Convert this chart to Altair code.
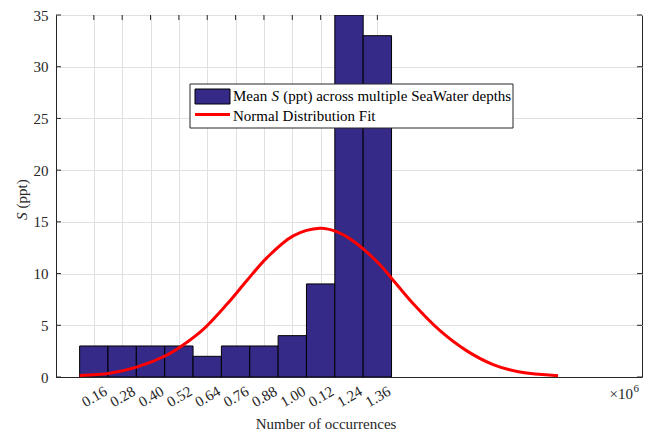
import json
import altair as alt
import pandas as pd

# Histogram bins (x in units of 1e6) and their heights
bin_centers = [0.16, 0.28, 0.40, 0.52, 0.64, 0.76, 0.88, 1.00, 1.12, 1.24, 1.36]
tick_labels = ["0.16", "0.28", "0.40", "0.52", "0.64", "0.76", "0.88", "1.00", "0.12", "1.24", "1.36"]
counts = [3, 3, 3, 3, 2, 3, 3, 4, 9, 35, 33]

# Normal distribution fit curve
fit_x = [0.10, 0.228, 0.341, 0.468, 0.538, 0.623, 0.722, 0.807, 0.891, 1.004, 1.117,
         1.187, 1.269, 1.371, 1.420, 1.511, 1.624, 1.737, 1.850, 1.963, 2.125]
fit_y = [0.15, 0.37, 0.95, 2.1, 3.09, 4.6, 7.0, 9.3, 11.5, 13.65, 14.38,
         14.05, 12.96, 10.85, 9.55, 7.1, 4.5, 2.55, 1.2, 0.48, 0.13]

y_ticks = [0, 5, 10, 15, 20, 25, 30, 35]

X_MAX = 2.48
Y_MAX = 35
BIN_W = 0.12
FONT = "Liberation Serif"
FS = 15
INK = "#262626"
BAR = "#352A87"

bars = pd.DataFrame({
    "start": [c - BIN_W / 2 for c in bin_centers],
    "end": [c + BIN_W / 2 for c in bin_centers],
    "base": [0] * len(bin_centers),
    "count": counts,
})
fit = pd.DataFrame({"x": fit_x, "y": fit_y})
one = pd.DataFrame({"k": [0]})

xscale = alt.Scale(domain=[0, X_MAX], nice=False, zero=False)
yscale = alt.Scale(domain=[0, Y_MAX], nice=False)

label_expr = json.dumps(tick_labels) + "[round((datum.value - 0.16) / 0.12)]"

xaxis = alt.Axis(values=bin_centers, labelExpr=label_expr, title=None, grid=True,
                 tickSize=0, labelAngle=-30, labelAlign="center", labelBaseline="middle",
                 labelPadding=19, labelOverlap=False)
yaxis = alt.Axis(values=y_ticks, title=None, grid=True, tickSize=0, labelPadding=8,
                 format="d", labelOverlap=False)

# inward tick marks on top, left and right edges
top_ticks = pd.DataFrame({"x": bin_centers, "y": [Y_MAX] * len(bin_centers),
                          "y2": [Y_MAX - 0.48] * len(bin_centers)})
left_ticks = pd.DataFrame({"y": y_ticks, "x": [0.0] * len(y_ticks),
                           "x2": [0.021] * len(y_ticks)})
right_ticks = pd.DataFrame({"y": y_ticks, "x": [X_MAX - 0.021] * len(y_ticks),
                            "x2": [X_MAX] * len(y_ticks)})

tick_top = alt.Chart(top_ticks).mark_rule(color=INK, strokeWidth=1).encode(
    x=alt.X("x:Q", scale=xscale, axis=xaxis), y=alt.Y("y:Q", scale=yscale, axis=yaxis),
    y2="y2:Q")
tick_left = alt.Chart(left_ticks).mark_rule(color=INK, strokeWidth=1).encode(
    x="x:Q", x2="x2:Q", y="y:Q")
tick_right = alt.Chart(right_ticks).mark_rule(color=INK, strokeWidth=1).encode(
    x="x:Q", x2="x2:Q", y="y:Q")

hist = alt.Chart(bars).mark_rect(color=BAR, stroke="black", strokeWidth=1, clip=True).encode(
    x="start:Q", x2="end:Q", y="base:Q", y2="count:Q")

curve = alt.Chart(fit).mark_line(color="#ff0000", strokeWidth=3,
                                 interpolate="catmull-rom").encode(x="x:Q", y="y:Q")

# legend box
leg_box = alt.Chart(one).mark_rect(fill="white", stroke=INK, strokeWidth=1).encode(
    x=alt.value(134), x2=alt.value(457), y=alt.value(69), y2=alt.value(113))
leg_sym = alt.Chart(one).mark_rect(fill=BAR, stroke="black", strokeWidth=1).encode(
    x=alt.value(139), x2=alt.value(174), y=alt.value(74), y2=alt.value(89))
leg_line = alt.Chart(one).mark_rule(color="#ff0000", strokeWidth=3).encode(
    x=alt.value(139), x2=alt.value(174), y=alt.value(99.5))


def txt(s, x, y, size=FS, style="normal", align="left", angle=0, color=INK):
    return alt.Chart(one).mark_text(text=s, font=FONT, fontSize=size, fontStyle=style,
                                    align=align, baseline="alphabetic", angle=angle,
                                    color=color).encode(x=alt.value(x), y=alt.value(y))


leg_t1 = txt("Mean", 177, 86, color="black")
leg_t2 = txt("S", 215.5, 86, style="italic", color="black")
leg_t3 = txt("(ppt) across multiple SeaWater depths", 227.3, 86, color="black")
leg_t4 = txt("Normal Distribution Fit", 177, 105.5, color="black")

x_title = txt("Number of occurrences", 270, 414, align="center")
exp_base = txt("\u00d710", 577, 384, align="right")
exp_pow = txt("6", 577.5, 377, size=11)
y_title_s = txt("S", -29, 205, style="italic", angle=270)
y_title_rest = txt("(ppt)", -29, 193.5, angle=270)

chart = alt.layer(
    tick_top, tick_left, tick_right, hist, curve,
    leg_box, leg_sym, leg_line, leg_t1, leg_t2, leg_t3, leg_t4,
    x_title, exp_base, exp_pow, y_title_s, y_title_rest,
).properties(
    width=586, height=362,
    autosize=alt.AutoSizeParams(type="none"),
    padding={"left": 56, "top": 15, "right": 7, "bottom": 56},
    background="white",
).configure_view(
    stroke=INK, strokeWidth=1,
).configure_axis(
    labelFont=FONT, labelFontSize=FS, labelColor=INK,
    domainColor=INK, domainWidth=1,
    gridColor="#e0e0e0", gridWidth=1,
)

chart.save("out.html", embed_options={"renderer": "svg", "actions": False})
